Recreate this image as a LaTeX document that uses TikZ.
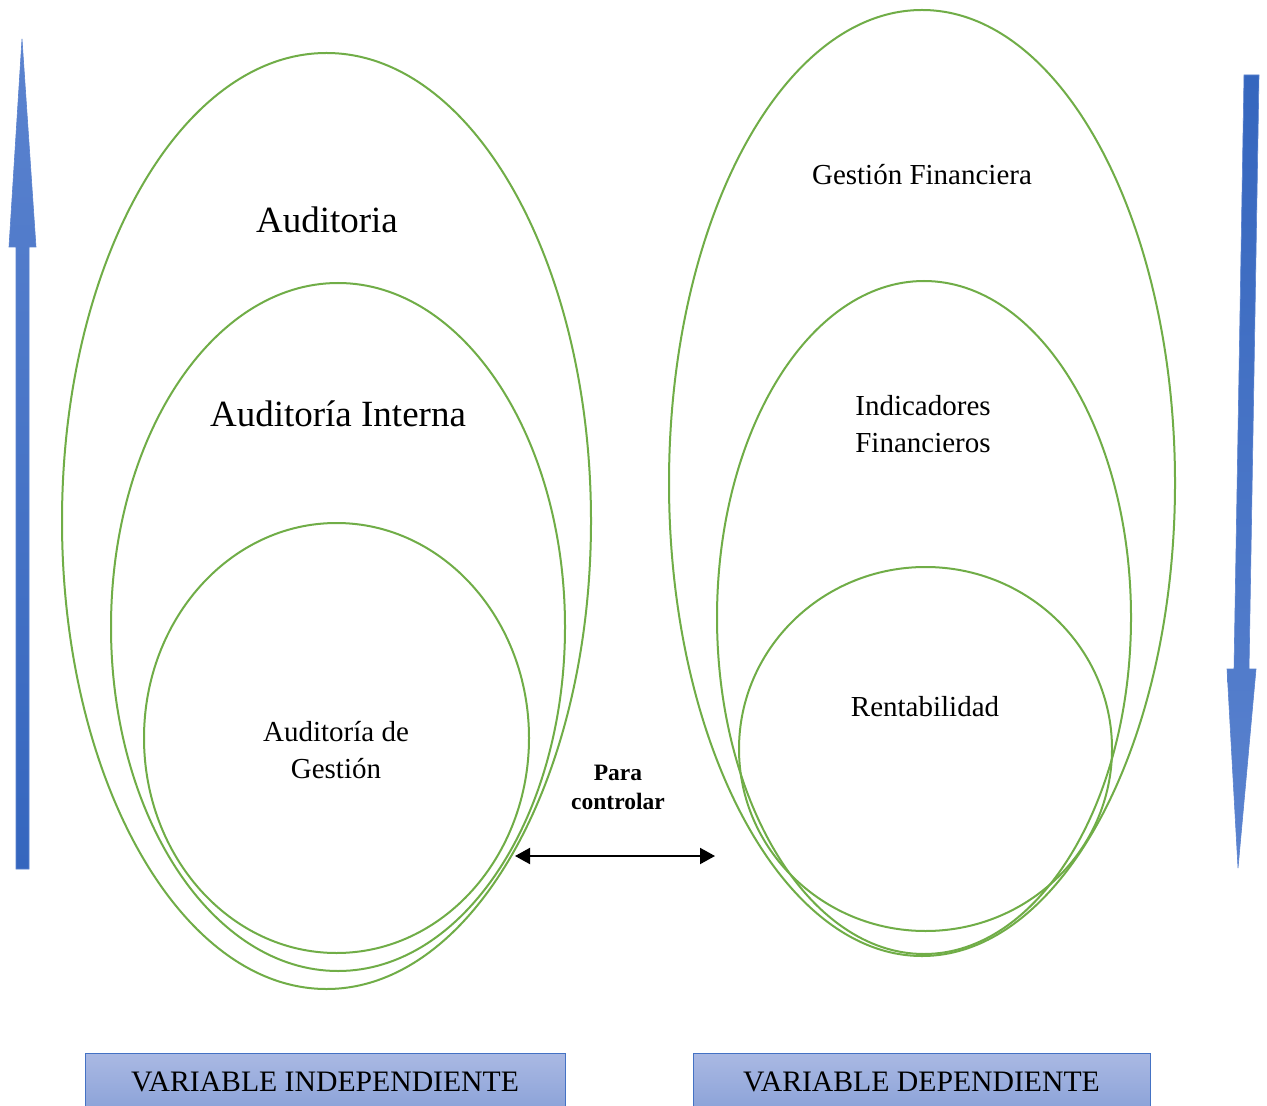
\documentclass[tikz,border=0pt]{standalone}
\usepackage{fontspec}
\setmainfont{Liberation Serif}
\usetikzlibrary{shapes.geometric,arrows.meta}

\definecolor{ringgreen}{HTML}{70AD47}
\definecolor{arrowlight}{HTML}{5B83CF}
\definecolor{arrowdark}{HTML}{3566BE}
\definecolor{boxtop}{HTML}{AAB9E3}
\definecolor{boxbot}{HTML}{8BA2D8}
\definecolor{boxedge}{HTML}{4472C4}

\tikzset{
  ring/.style={ellipse, draw=ringgreen, line width=1pt, inner sep=0pt, outer sep=0pt},
  biglabel/.style={font=\fontsize{18.5}{22}\selectfont, align=center, inner sep=0pt},
  label14/.style={font=\fontsize{14.5}{18.2}\selectfont, align=center, inner sep=0pt},
  notelabel/.style={font=\bfseries\fontsize{11.75}{14.5}\selectfont, align=center, inner sep=0pt},
  trendup/.style={top color=arrowlight, bottom color=arrowdark, draw=arrowlight, line width=0.3pt},
  trenddown/.style={top color=arrowdark, bottom color=arrowlight, draw=arrowlight, line width=0.3pt},
  varbox/.style={rectangle, draw=boxedge, line width=0.5pt, top color=boxtop, bottom color=boxbot,
    font=\fontsize{14.85}{17}\selectfont, inner sep=0pt},
  link/.style={{Triangle[length=7.5pt,width=8pt]}-{Triangle[length=7.5pt,width=8pt]}, line width=1pt}
}

\begin{document}
\begin{tikzpicture}[x=0.5pt,y=-0.5pt]
\path[use as bounding box, clip] (0,0) rectangle (1267,1106);
\fill[white] (0,0) rectangle (1267,1106);

% independent variable: nested rings
\node[ring, minimum width=264.5pt, minimum height=468pt] (aud) at (326.5,521) {};
\node[ring, minimum width=227pt, minimum height=344pt] (audint) at (338,627) {};
\node[ring, minimum width=192.5pt, minimum height=215pt] (audges) at (336.5,738) {};

\node[biglabel] (taud) at (327,220) {Auditoria};
\node[biglabel] (taudint) at (338,414) {Auditoría Interna};
\node[label14] (taudges) at (336,750) {Auditoría de\\Gestión};

% dependent variable: nested rings
\node[ring, minimum width=253pt, minimum height=473pt] (gf) at (922,483) {};
\node[ring, minimum width=207pt, minimum height=336.5pt] (ind) at (924,617.5) {};
\node[ring, minimum width=186.5pt, minimum height=182pt] (rent) at (925.5,749) {};

\node[label14] (tgf) at (922,175) {Gestión Financiera};
\node[label14] (tind) at (923,424) {Indicadores\\Financieros};
\node[label14] (trent) at (925,707) {Rentabilidad};

% link between both variables
\node[notelabel] (tpara) at (618,787) {Para\\controlar};
\coordinate (ctlL) at (515,856);
\coordinate (ctlR) at (715,856);
\draw[link] (ctlL) -- (ctlR);

% trend arrows
\path[trendup] (16,869) -- (16,247) -- (9,247) -- (22,39) -- (36,247) -- (29,247) -- (29,869) -- cycle;
\path[trenddown] (1244,75) -- (1259,75) -- (1249,669) -- (1256,669) -- (1238,868) -- (1227,669) -- (1234,669) -- cycle;

% variable captions
\node[varbox, minimum width=240pt, minimum height=29pt] (vi) at (325,1082) {VARIABLE INDEPENDIENTE};
\node[varbox, minimum width=228.5pt, minimum height=29pt] (vd) at (921.5,1082) {VARIABLE DEPENDIENTE};
\end{tikzpicture}
\end{document}
